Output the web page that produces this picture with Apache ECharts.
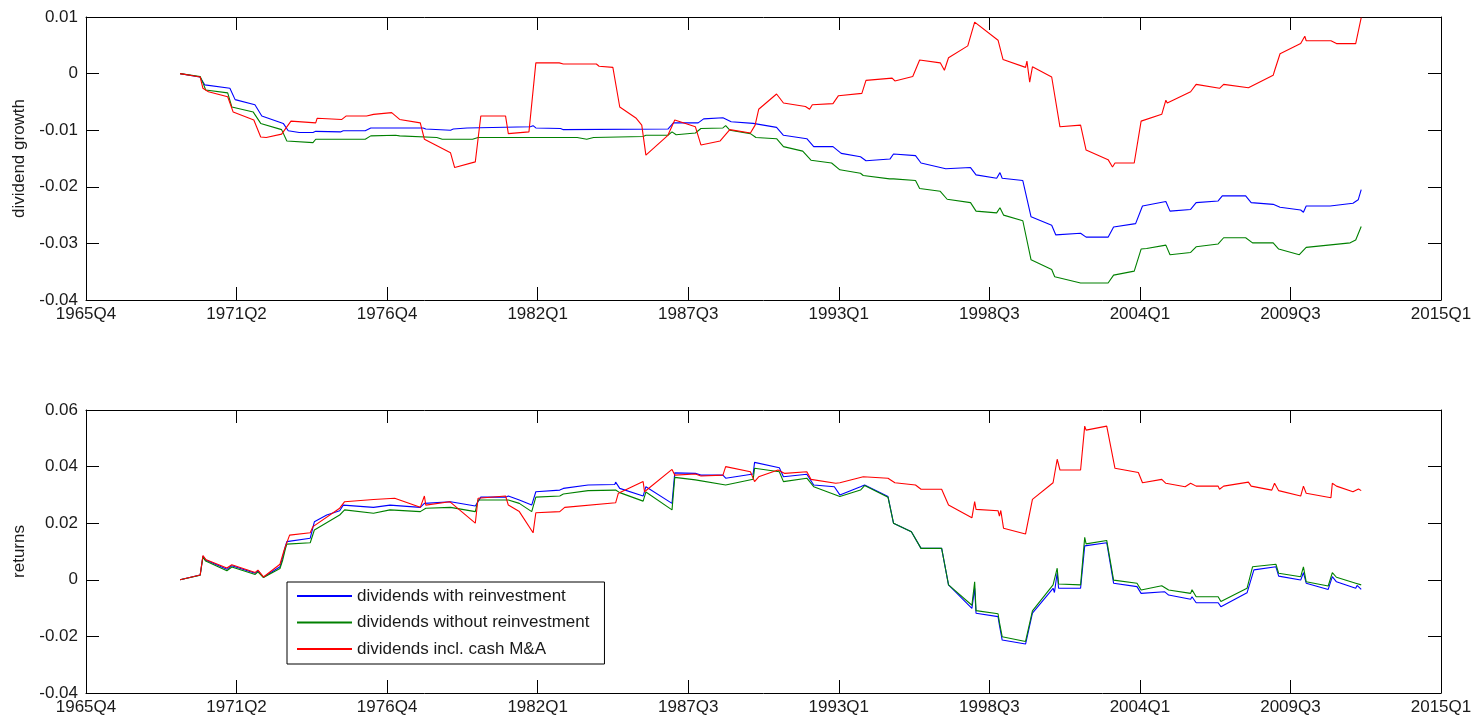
<!DOCTYPE html>
<html>
<head>
<meta charset="utf-8">
<script src="https://cdn.jsdelivr.net/npm/echarts@6/dist/echarts.min.js"></script>
<style>
  html, body { margin: 0; padding: 0; background: #fff; }
  #chart { width: 1481px; height: 718px; }
</style>
</head>
<body>
<div id="chart"></div>
<script>
// x tick labels (10 evenly spaced ticks between 1965Q4 and 2015Q1)
var tickLabels = ["1965Q4", "1971Q2", "1976Q4", "1982Q1", "1987Q3", "1993Q1", "1998Q3", "2004Q1", "2009Q3", "2015Q1"];
var startYear = 1965.75;
var endYear = 2015.0;

var seriesNames = ["dividends with reinvestment", "dividends without reinvestment", "dividends incl. cash M&A"];

// top panel: dividend growth, [year, value]
var growthReinvest = [
  [1969.17, 0], [1969.89, -0.0006], [1970.07, -0.002], [1970.98, -0.0026], [1971.17, -0.0046],
  [1971.89, -0.0055], [1972.14, -0.0075], [1972.92, -0.0088], [1973.1, -0.0101], [1973.5, -0.0104],
  [1974.0, -0.0104], [1974.1, -0.0102], [1975.0, -0.0103], [1975.1, -0.0101], [1975.9, -0.0101],
  [1976.1, -0.0096], [1978.0, -0.0096], [1978.1, -0.0098], [1979.0, -0.01], [1979.1, -0.0098],
  [1979.6, -0.0096], [1981.9, -0.0094], [1982.0, -0.0092], [1982.1, -0.0096], [1983.0, -0.0097],
  [1983.1, -0.0099], [1986.9, -0.0098], [1987.1, -0.0087], [1988.0, -0.0087], [1988.2, -0.008],
  [1988.9, -0.0078], [1989.2, -0.0085], [1990.0, -0.0088], [1990.85, -0.0095], [1991.1, -0.0109],
  [1991.95, -0.0115], [1992.2, -0.0129], [1992.9, -0.0129], [1993.2, -0.0141], [1993.9, -0.0147],
  [1994.1, -0.0154], [1994.97, -0.0151], [1995.1, -0.0142], [1995.9, -0.0145], [1996.1, -0.0158],
  [1997.0, -0.0168], [1997.9, -0.0166], [1998.1, -0.0179], [1998.85, -0.0185], [1998.97, -0.0175],
  [1999.05, -0.0185], [1999.8, -0.0189], [2000.1, -0.0253], [2000.85, -0.0268], [2001.0, -0.0285],
  [2001.9, -0.0282], [2002.1, -0.0289], [2002.9, -0.0289], [2003.1, -0.0271], [2003.9, -0.0265],
  [2004.15, -0.0234], [2005.0, -0.0226], [2005.15, -0.0243], [2005.9, -0.024], [2006.1, -0.0228],
  [2006.9, -0.0225], [2007.05, -0.0216], [2007.9, -0.0216], [2008.1, -0.0228], [2008.9, -0.0231],
  [2009.15, -0.0236], [2009.9, -0.0241], [2010.0, -0.0245], [2010.1, -0.0234], [2010.97, -0.0234],
  [2011.8, -0.0229], [2011.99, -0.0223], [2012.1, -0.0205]
];
var growthNoReinvest = [
  [1969.17, 0], [1969.9, -0.0005], [1970.0, -0.0016], [1970.1, -0.0029], [1970.9, -0.0034],
  [1971.05, -0.0059], [1971.83, -0.0068], [1972.1, -0.0088], [1972.86, -0.0099], [1973.05, -0.0119],
  [1974.0, -0.0122], [1974.1, -0.0116], [1975.9, -0.0116], [1976.1, -0.011], [1977.0, -0.0109],
  [1977.15, -0.011], [1978.5, -0.0113], [1978.7, -0.0116], [1979.8, -0.0116], [1980.0, -0.0113],
  [1983.6, -0.0113], [1983.95, -0.0116], [1984.2, -0.0113], [1986.0, -0.0111], [1986.1, -0.0109],
  [1986.9, -0.0109], [1987.05, -0.0103], [1987.2, -0.0108], [1987.9, -0.0105], [1988.1, -0.0097],
  [1988.9, -0.0096], [1989.0, -0.0092], [1989.15, -0.01], [1989.9, -0.0106], [1990.1, -0.0113],
  [1990.85, -0.0115], [1991.1, -0.0129], [1991.8, -0.0137], [1992.1, -0.0153], [1992.85, -0.0158],
  [1993.15, -0.017], [1993.9, -0.0176], [1994.0, -0.018], [1994.96, -0.0186], [1995.0, -0.0183],
  [1995.1, -0.0186], [1995.9, -0.0189], [1996.05, -0.0203], [1996.8, -0.0208], [1997.05, -0.0222],
  [1997.9, -0.0228], [1998.1, -0.0243], [1998.85, -0.0246], [1998.97, -0.0237], [1999.1, -0.025],
  [1999.8, -0.026], [2000.1, -0.0329], [2000.85, -0.0346], [2000.96, -0.0359], [2001.9, -0.037],
  [2002.9, -0.037], [2003.1, -0.0356], [2003.85, -0.0349], [2004.1, -0.031], [2004.3, -0.0309],
  [2005.0, -0.0303], [2005.15, -0.032], [2005.9, -0.0316], [2006.1, -0.0306], [2006.9, -0.0301],
  [2007.1, -0.029], [2007.9, -0.029], [2008.15, -0.0299], [2008.9, -0.0299], [2009.1, -0.031],
  [2009.85, -0.032], [2010.1, -0.0307], [2010.9, -0.0303], [2011.7, -0.0299], [2011.9, -0.0294],
  [2012.1, -0.027]
];
var growthCashMA = [
  [1969.17, 0], [1969.9, -0.0006], [1970.0, -0.0026], [1970.2, -0.0032], [1970.9, -0.0041],
  [1971.1, -0.0068], [1971.85, -0.0082], [1972.1, -0.0112], [1972.3, -0.0113], [1972.86, -0.0107],
  [1973.2, -0.0084], [1974.1, -0.0087], [1974.15, -0.0079], [1975.05, -0.0081], [1975.2, -0.0075],
  [1975.95, -0.0075], [1976.2, -0.0072], [1976.86, -0.0069], [1977.15, -0.0081], [1977.9, -0.0087],
  [1978.05, -0.0116], [1979.0, -0.014], [1979.15, -0.0166], [1979.9, -0.0156], [1980.1, -0.0075],
  [1981.0, -0.0075], [1981.1, -0.0106], [1981.85, -0.0103], [1982.1, 0.0019], [1982.95, 0.0019],
  [1983.1, 0.0017], [1984.3, 0.0017], [1984.4, 0.0013], [1984.9, 0.0011], [1985.15, -0.0059],
  [1985.75, -0.0079], [1985.95, -0.0091], [1986.1, -0.0144], [1986.9, -0.0109], [1987.15, -0.0082],
  [1987.9, -0.0094], [1988.1, -0.0126], [1988.8, -0.0119], [1989.15, -0.0099], [1989.9, -0.0105],
  [1990.07, -0.0091], [1990.2, -0.0063], [1990.85, -0.0036], [1991.1, -0.0052], [1991.9, -0.0058],
  [1992.05, -0.0063], [1992.15, -0.0055], [1992.9, -0.0053], [1993.1, -0.0039], [1993.95, -0.0035],
  [1994.1, -0.0012], [1995.05, -0.0008], [1995.15, -0.0013], [1995.8, -0.0005], [1996.05, 0.0024],
  [1996.8, 0.0019], [1996.95, 0.0006], [1997.1, 0.0028], [1997.8, 0.0049], [1998.05, 0.0091],
  [1998.9, 0.0059], [1999.08, 0.0025], [1999.9, 0.0011], [1999.95, 0.0022], [2000.05, -0.0015],
  [2000.15, 0.0012], [2000.85, -0.0006], [2001.15, -0.0094], [2001.9, -0.0091], [2002.1, -0.0135],
  [2002.9, -0.0152], [2003.06, -0.0165], [2003.15, -0.0158], [2003.85, -0.0158], [2004.1, -0.0084],
  [2004.85, -0.0072], [2005.0, -0.0047], [2005.05, -0.0052], [2005.9, -0.0032], [2006.1, -0.0019],
  [2006.95, -0.0026], [2007.1, -0.0019], [2008.0, -0.0025], [2008.9, -0.0003], [2008.95, 0.0005],
  [2009.0, 0.0002], [2009.15, 0.0035], [2009.9, 0.0053], [2010.05, 0.0066], [2010.1, 0.0058],
  [2011.0, 0.0058], [2011.2, 0.0053], [2011.9, 0.0053], [2012.1, 0.0099]
];

// bottom panel: returns, [year, value]
var returnsReinvest = [
  [1969.17, 0], [1969.9, 0.0017], [1970.0, 0.0084], [1970.1, 0.007], [1970.87, 0.0037],
  [1971.05, 0.005], [1971.9, 0.0023], [1972.0, 0.0032], [1972.2, 0.0009], [1972.8, 0.0046],
  [1972.9, 0.008], [1973.0, 0.012], [1973.05, 0.0135], [1973.9, 0.0147], [1974.05, 0.0205],
  [1974.5, 0.0229], [1974.97, 0.0244], [1975.1, 0.0264], [1976.2, 0.0256], [1976.8, 0.0264],
  [1977.9, 0.0256], [1978.05, 0.027], [1979.0, 0.0276], [1979.9, 0.0261], [1980.1, 0.0292],
  [1981.0, 0.0292], [1981.1, 0.0296], [1981.5, 0.0282], [1981.95, 0.0264], [1982.1, 0.0311],
  [1982.97, 0.0317], [1983.1, 0.0323], [1984.0, 0.0335], [1984.97, 0.0337], [1985.0, 0.0345],
  [1985.15, 0.0323], [1986.0, 0.0296], [1986.1, 0.0329], [1987.05, 0.027], [1987.15, 0.0378],
  [1987.9, 0.0376], [1988.1, 0.037], [1988.9, 0.037], [1989.0, 0.0359], [1990.0, 0.0374],
  [1990.05, 0.0415], [1990.95, 0.0396], [1991.1, 0.0364], [1991.95, 0.0373], [1992.2, 0.0335],
  [1992.95, 0.0329], [1993.15, 0.03], [1993.9, 0.0329], [1994.05, 0.0335], [1994.9, 0.0294],
  [1995.1, 0.02], [1995.75, 0.017], [1996.1, 0.0111], [1996.85, 0.0111], [1997.1, -0.0018],
  [1997.95, -0.0101], [1998.05, -0.003], [1998.1, -0.0118], [1998.9, -0.013], [1998.95, -0.016],
  [1999.05, -0.0213], [1999.9, -0.0227], [2000.15, -0.0118], [2000.9, -0.003], [2000.95, -0.0045],
  [2001.05, 0.0025], [2001.1, -0.003], [2001.9, -0.003], [2002.05, 0.012], [2002.1, 0.0117],
  [2002.85, 0.0131], [2003.1, -0.0012], [2003.95, -0.0024], [2004.1, -0.0048], [2004.95, -0.0042],
  [2005.1, -0.0054], [2005.9, -0.0069], [2005.95, -0.006], [2006.1, -0.0081], [2006.9, -0.0081],
  [2007.0, -0.0095], [2007.95, -0.0046], [2008.2, 0.0035], [2009.0, 0.0046], [2009.1, 0.0013],
  [2009.9, -0.0001], [2010.0, 0.0025], [2010.1, -0.0012], [2010.9, -0.0034], [2011.05, 0.0011],
  [2011.2, -0.0007], [2011.9, -0.003], [2011.95, -0.002], [2012.1, -0.0034]
];
var returnsNoReinvest = [
  [1969.17, 0], [1969.9, 0.0016], [1970.0, 0.008], [1970.1, 0.0066], [1970.87, 0.0032],
  [1971.05, 0.0045], [1971.9, 0.0019], [1972.0, 0.0028], [1972.2, 0.0008], [1972.8, 0.004],
  [1972.9, 0.007], [1973.0, 0.011], [1973.05, 0.0126], [1973.9, 0.0131], [1974.05, 0.0176],
  [1974.97, 0.0229], [1975.15, 0.0247], [1976.2, 0.0235], [1976.8, 0.0247], [1977.9, 0.0241],
  [1978.1, 0.0253], [1979.0, 0.0256], [1979.9, 0.0241], [1980.0, 0.0282], [1981.1, 0.0282],
  [1981.5, 0.027], [1981.95, 0.0241], [1982.1, 0.0292], [1982.97, 0.0296], [1983.1, 0.0303],
  [1984.0, 0.0315], [1985.0, 0.0317], [1985.15, 0.0308], [1986.0, 0.0278], [1986.1, 0.031],
  [1987.05, 0.0247], [1987.15, 0.0362], [1987.9, 0.0353], [1989.0, 0.0335], [1990.0, 0.0355],
  [1990.05, 0.0394], [1990.95, 0.0382], [1991.1, 0.0347], [1991.95, 0.0359], [1992.2, 0.0329],
  [1993.15, 0.0294], [1993.9, 0.0317], [1994.05, 0.0333], [1994.9, 0.0292], [1995.1, 0.02],
  [1995.75, 0.017], [1996.1, 0.0111], [1996.85, 0.0111], [1997.1, -0.0018], [1997.95, -0.009],
  [1998.05, -0.0007], [1998.1, -0.0109], [1998.9, -0.012], [1998.95, -0.015], [1999.05, -0.0201],
  [1999.9, -0.0218], [2000.15, -0.011], [2000.9, -0.0018], [2001.05, 0.0041], [2001.1, -0.0015],
  [2001.9, -0.0018], [2002.05, 0.015], [2002.1, 0.0127], [2002.85, 0.0139], [2003.1, -0.0001],
  [2003.95, -0.0012], [2004.1, -0.0036], [2004.85, -0.0021], [2005.1, -0.0036], [2005.9, -0.0048],
  [2005.95, -0.0035], [2006.1, -0.006], [2006.9, -0.006], [2007.0, -0.0077], [2007.95, -0.003],
  [2008.15, 0.0046], [2009.0, 0.0055], [2009.1, 0.0023], [2009.9, 0.0011], [2010.0, 0.0046],
  [2010.1, -0.0007], [2010.9, -0.0022], [2011.05, 0.0025], [2011.2, 0.0009], [2011.9, -0.0012],
  [2011.95, -0.0005], [2012.1, -0.0018]
];
var returnsCashMA = [
  [1969.17, 0], [1969.9, 0.0017], [1970.0, 0.0086], [1970.1, 0.0072], [1970.87, 0.0042],
  [1971.05, 0.0053], [1971.9, 0.0026], [1972.0, 0.0034], [1972.2, 0.001], [1972.8, 0.0055],
  [1972.95, 0.0105], [1973.15, 0.0158], [1973.9, 0.0166], [1974.0, 0.0188], [1974.97, 0.0253],
  [1975.15, 0.0276], [1976.2, 0.0284], [1976.97, 0.0288], [1977.15, 0.0282], [1977.9, 0.0256],
  [1978.05, 0.0296], [1978.1, 0.0264], [1978.97, 0.0276], [1979.9, 0.02], [1980.0, 0.0288],
  [1981.0, 0.0296], [1981.1, 0.0264], [1981.5, 0.0241], [1982.0, 0.0166], [1982.1, 0.0237],
  [1982.97, 0.0241], [1983.15, 0.0256], [1985.0, 0.0272], [1985.1, 0.0306], [1986.0, 0.0347],
  [1986.05, 0.0311], [1987.05, 0.039], [1987.15, 0.037], [1987.9, 0.0374], [1988.1, 0.0367],
  [1988.9, 0.037], [1989.0, 0.04], [1989.9, 0.0382], [1990.05, 0.0347], [1990.2, 0.0364],
  [1990.9, 0.0388], [1991.15, 0.0376], [1991.95, 0.0382], [1992.1, 0.0355], [1993.0, 0.0341],
  [1993.15, 0.0343], [1994.0, 0.0364], [1994.9, 0.0359], [1995.15, 0.0343], [1995.9, 0.0335],
  [1996.1, 0.032], [1996.85, 0.032], [1997.1, 0.0264], [1997.95, 0.0219], [1998.05, 0.0276],
  [1998.1, 0.0249], [1998.9, 0.0244], [1998.95, 0.0225], [1999.0, 0.0245], [1999.1, 0.0182],
  [1999.9, 0.0162], [2000.15, 0.0284], [2000.9, 0.0343], [2000.95, 0.034], [2001.05, 0.0426],
  [2001.15, 0.0388], [2001.9, 0.0388], [2002.05, 0.0543], [2002.1, 0.0529], [2002.85, 0.0543],
  [2003.15, 0.0394], [2004.0, 0.0379], [2004.15, 0.0343], [2004.85, 0.0355], [2005.0, 0.0341],
  [2005.7, 0.0329], [2005.9, 0.0341], [2006.1, 0.0331], [2006.9, 0.0331], [2006.95, 0.032],
  [2007.1, 0.0331], [2008.0, 0.0345], [2008.1, 0.0331], [2008.85, 0.0317], [2008.95, 0.0341],
  [2009.1, 0.0315], [2009.9, 0.0296], [2010.0, 0.0331], [2010.1, 0.0306], [2011.0, 0.029],
  [2011.05, 0.0341], [2011.2, 0.0331], [2011.8, 0.0311], [2012.0, 0.0321], [2012.1, 0.0315]
];

var colors = ["#0000ff", "#008000", "#ff0000"];
var fontFamily = "Liberation Sans, Arial, sans-serif";
var textColor = "#1a1a1a";

// the x axis runs 0..9 (one unit per tick label)
var tickSpan = (endYear - startYear) / (tickLabels.length - 1);
function toAxis(points) {
  return points.map(function (p) {
    return [(p[0] - startYear) / tickSpan, p[1]];
  });
}

function xAxisFor(gridIndex, position) {
  return {
    type: "value",
    gridIndex: gridIndex,
    position: position,
    min: 0,
    max: tickLabels.length - 1,
    interval: 1,
    splitLine: { show: false },
    axisLine: { show: true, onZero: false, lineStyle: { color: "#000", width: 1 } },
    axisTick: { show: true, inside: true, length: 13, lineStyle: { color: "#000" } },
    axisLabel: {
      show: position === "bottom",
      margin: 6,
      color: textColor,
      fontFamily: fontFamily,
      fontSize: 17,
      formatter: function (v) {
        return tickLabels[Math.round(v)];
      },
    },
  };
}

function yAxisFor(gridIndex, position, min, max, interval, name) {
  return {
    type: "value",
    gridIndex: gridIndex,
    position: position,
    min: min,
    max: max,
    interval: interval,
    name: position === "left" ? name : "",
    nameLocation: "middle",
    nameGap: 58,
    nameTextStyle: { color: textColor, fontFamily: fontFamily, fontSize: 17 },
    splitLine: { show: false },
    axisLine: { show: true, onZero: false, lineStyle: { color: "#000", width: 1 } },
    axisTick: { show: true, inside: true, length: 13, lineStyle: { color: "#000" } },
    axisLabel: {
      show: position === "left",
      margin: 8,
      color: textColor,
      fontFamily: fontFamily,
      fontSize: 17,
      formatter: function (v) {
        return String(+v.toFixed(2));
      },
    },
  };
}

function lineSeries(name, data, idx, panel) {
  return {
    name: name,
    type: "line",
    xAxisIndex: panel * 2,
    yAxisIndex: panel * 2,
    data: toAxis(data),
    showSymbol: false,
    symbol: "none",
    lineStyle: { color: colors[idx], width: 1.1 },
    itemStyle: { color: colors[idx] },
    animation: false,
  };
}

var chart = echarts.init(document.getElementById("chart"));

var option = {
  backgroundColor: "#fff",
  animation: false,
  grid: [
    { left: 86, top: 17, right: 40, height: 283 },
    { left: 86, top: 410, right: 40, height: 283 },
  ],
  xAxis: [
    xAxisFor(0, "bottom"),
    xAxisFor(0, "top"),
    xAxisFor(1, "bottom"),
    xAxisFor(1, "top"),
  ],
  yAxis: [
    yAxisFor(0, "left", -0.04, 0.01, 0.01, "dividend growth"),
    yAxisFor(0, "right", -0.04, 0.01, 0.01, ""),
    yAxisFor(1, "left", -0.04, 0.06, 0.02, "returns"),
    yAxisFor(1, "right", -0.04, 0.06, 0.02, ""),
  ],
  legend: {
    data: seriesNames,
    orient: "vertical",
    left: 287,
    top: 582,
    padding: [4, 15, 5, 10],
    itemGap: 6.5,
    itemWidth: 55,
    itemHeight: 2,
    icon: "rect",
    backgroundColor: "#fff",
    borderColor: "#000",
    borderWidth: 1,
    borderRadius: 0,
    selectedMode: false,
    textStyle: { color: textColor, fontFamily: fontFamily, fontSize: 17, lineHeight: 20 },
  },
  series: [
    lineSeries(seriesNames[0], growthReinvest, 0, 0),
    lineSeries(seriesNames[1], growthNoReinvest, 1, 0),
    lineSeries(seriesNames[2], growthCashMA, 2, 0),
    lineSeries(seriesNames[0], returnsReinvest, 0, 1),
    lineSeries(seriesNames[1], returnsNoReinvest, 1, 1),
    lineSeries(seriesNames[2], returnsCashMA, 2, 1),
  ],
};

chart.setOption(option);
</script>
</body>
</html>
